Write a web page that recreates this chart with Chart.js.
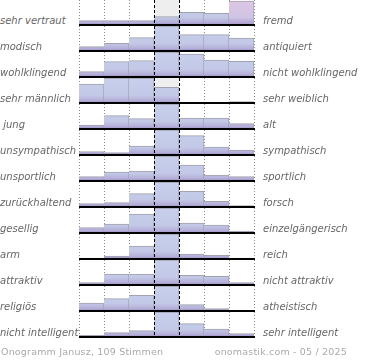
<!DOCTYPE html>
<html>
<head>
<meta charset="utf-8">
<script src="https://cdn.jsdelivr.net/npm/chart.js@4"></script>
<style>
    html, body { margin: 0; padding: 0; background: #fff; }
    #wrap { position: relative; width: 370px; height: 360px; overflow: hidden; font-family: "DejaVu Sans", sans-serif; }
    .row { position: absolute; left: 79px; width: 176px; height: 26px; }
    .lab { position: absolute; font-size: 10px; line-height: 12px; font-style: italic; color: #666; white-space: pre; }
    .foot { position: absolute; top: 346px; font-size: 9.5px; line-height: 12px; color: #aaa; white-space: pre; letter-spacing: 0.18px; }
</style>
</head>
<body>
<div id="wrap"></div>
<script>
const leftLabels = [
    "sehr vertraut", "modisch", "wohlklingend", "sehr männlich", " jung",
    "unsympathisch", "unsportlich", "zurückhaltend", "gesellig", "arm",
    "attraktiv", "religiös", "nicht intelligent"
];
const rightLabels = [
    "fremd", "antiquiert", "nicht wohlklingend", "sehr weiblich", "alt",
    "sympathisch", "sportlich", "forsch", "einzelgängerisch", "reich",
    "nicht attraktiv", "atheistisch", "sehr intelligent"
];
const columns = ["1", "2", "3", "4", "5", "6", "7"];

// bar heights per row (row maximum is about 25)
const rowValues = [
    [4.3, 4.3, 4.3, 8.3, 12.7, 11.7, 24],
    [4.3, 7.7, 13.3, 25, 16.3, 16.3, 13],
    [5.3, 15.3, 16.3, 25, 23, 17, 15.7],
    [19, 25, 25, 15.7, 0, 0, 1.3],
    [4, 13.3, 10.3, 25, 11, 11, 5.3],
    [3.5, 2.3, 9, 25, 19.3, 7.8, 5],
    [4.3, 9, 10, 25, 16, 6, 4.3],
    [3.3, 4.3, 13.3, 25, 15.7, 5.7, 1.3],
    [5.3, 9, 19, 25, 10, 8, 2],
    [1, 3, 13, 25, 5, 3.7, 1],
    [2.3, 11, 11, 25, 9.7, 8.7, 2.3],
    [8, 12.3, 15.7, 25, 6.3, 2.3, 0],
    [1.7, 4.3, 6.3, 25, 13.3, 8, 3.3]
];

const footerLeft = "Onogramm Janusz, 109 Stimmen";
const footerRight = "onomastik.com - 05 / 2025";

const ROW_H = 26;
const wrap = document.getElementById("wrap");

function columnEdges(chart) {
    const x = chart.scales.x;
    const w = x.getPixelForValue(1) - x.getPixelForValue(0);
    const edges = columns.map((c, k) => x.getPixelForValue(k) - w / 2);
    edges.push(x.getPixelForValue(columns.length - 1) + w / 2);
    return { edges, w };
}

const gridPlugin = {
    id: "grid",
    beforeDatasetsDraw(chart) {
        const { ctx, height } = chart;
        const { edges, w } = columnEdges(chart);
        ctx.save();
        ctx.fillStyle = "#eeeeee";
        ctx.fillRect(edges[3], 0, w, height);
        ctx.strokeStyle = "#8a8a8a";
        ctx.lineWidth = 1;
        ctx.setLineDash([1, 2]);
        edges.forEach((e, k) => {
            if (k === 3 || k === 4) return;
            const px = Math.round(e) + 0.5;
            ctx.beginPath();
            ctx.moveTo(px, 0);
            ctx.lineTo(px, height);
            ctx.stroke();
        });
        ctx.restore();
    },
    afterDatasetsDraw(chart) {
        const { ctx, height, chartArea } = chart;
        const { edges } = columnEdges(chart);
        const y0 = chart.scales.y.getPixelForValue(0);
        ctx.save();
        ctx.strokeStyle = "#000";
        ctx.lineWidth = 1;
        ctx.setLineDash([3, 2]);
        [3, 4].forEach(k => {
            const px = Math.round(edges[k]) + 0.5;
            ctx.beginPath();
            ctx.moveTo(px, 0);
            ctx.lineTo(px, height);
            ctx.stroke();
        });
        ctx.setLineDash([]);
        ctx.lineWidth = 2;
        ctx.beginPath();
        ctx.moveTo(chartArea.left, y0);
        ctx.lineTo(chartArea.right + 1, y0);
        ctx.stroke();
        ctx.restore();
    }
};

function barFill(context, row) {
    const chart = context.chart;
    const area = chart.chartArea;
    if (!area) return "#c4cbe6";
    const g = chart.ctx.createLinearGradient(0, area.top, 0, area.bottom);
    if (row === 0 && context.dataIndex === 6) {
        g.addColorStop(0, "#dec6e6");
        g.addColorStop(0.7, "#cfc4e4");
        g.addColorStop(1, "#a898cc");
    } else {
        g.addColorStop(0, "#c8d0ec");
        g.addColorStop(0.7, "#c2c8e6");
        g.addColorStop(0.9, "#b4aed8");
        g.addColorStop(1, "#9c8cc4");
    }
    return g;
}

rowValues.forEach((vals, i) => {
    const box = document.createElement("div");
    box.className = "row";
    box.style.top = (i * ROW_H) + "px";
    const canvas = document.createElement("canvas");
    box.appendChild(canvas);
    wrap.appendChild(box);

    new Chart(canvas, {
        type: "bar",
        data: {
            labels: columns,
            datasets: [{
                data: vals,
                backgroundColor: ctx => barFill(ctx, i),
                borderColor: "#a2a2ae",
                borderWidth: { top: 1, right: 1, left: 0, bottom: 0 },
                borderSkipped: "start",
                barPercentage: 1,
                categoryPercentage: 1,
            }]
        },
        options: {
            responsive: true,
            maintainAspectRatio: false,
            animation: false,
            layout: { padding: { top: 0, left: 0, right: 1, bottom: 1 } },
            plugins: {
                legend: { display: false },
                tooltip: { enabled: false }
            },
            scales: {
                x: { display: false },
                y: { display: false, min: 0, max: 25 }
            }
        },
        plugins: [gridPlugin]
    });

    const l = document.createElement("div");
    l.className = "lab";
    l.style.left = "0px";
    l.style.top = (i * ROW_H + 15) + "px";
    l.textContent = leftLabels[i];
    wrap.appendChild(l);

    const r = document.createElement("div");
    r.className = "lab";
    r.style.left = "263px";
    r.style.top = (i * ROW_H + 15) + "px";
    r.textContent = rightLabels[i];
    wrap.appendChild(r);
});

const f1 = document.createElement("div");
f1.className = "foot";
f1.style.left = "1px";
f1.textContent = footerLeft;
wrap.appendChild(f1);

const f2 = document.createElement("div");
f2.className = "foot";
f2.style.right = "23px";
f2.textContent = footerRight;
wrap.appendChild(f2);
</script>
</body>
</html>
